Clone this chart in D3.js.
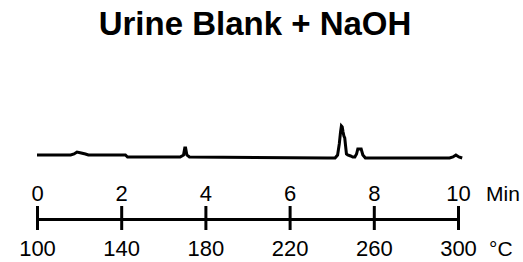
<!DOCTYPE html>
<html><head><meta charset="utf-8">
<script src="https://cdn.jsdelivr.net/npm/d3@7"></script>
<style>body{margin:0;background:#fff}svg{display:block}text{font-family:"Liberation Sans",Arial,sans-serif;fill:#000}</style>
</head><body>
<script>
const title = "Urine Blank + NaOH";
const minTicks = [0, 2, 4, 6, 8, 10];
const tempTicks = [100, 140, 180, 220, 260, 300];
const timeUnit = "Min";
const tempUnit = "°C";
// chromatogram trace (time in min, detector signal arbitrary units)
const times  = [0, 0.8, 0.88, 0.95, 1.05, 1.15, 1.22, 2.1, 2.15, 3.4, 3.48, 3.51, 3.53, 3.56, 3.62, 6.9, 7.08, 7.14, 7.18, 7.21, 7.23, 7.25, 7.27, 7.29, 7.31, 7.33, 7.35, 7.38, 7.45, 7.5, 7.55, 7.59, 7.62, 7.7, 7.74, 7.8, 9.8, 9.88, 9.95, 10.02, 10.1];
const signal = [5, 5, 6, 8, 7, 6, 5, 5, 3, 3, 5, 12, 12, 5, 3, 2, 2, 5, 16, 28, 34, 33, 28, 24, 22, 14, 6, 5, 4, 3, 3, 6, 11, 11, 5, 2, 2, 3, 5, 3, 2];

const W = 523, H = 262;
const svg = d3.select("body").append("svg").attr("width", W).attr("height", H);

const x = d3.scaleLinear().domain([0, 10]).range([37, 458]);
const xt = d3.scaleLinear().domain([100, 300]).range([37, 458]);
const y = d3.scaleLinear().domain([0, 100]).range([160, 60]);

svg.append("text").attr("x", 255).attr("y", 35).attr("text-anchor", "middle")
  .style("font-weight", "bold").style("font-size", "33px").text(title);

const line = d3.line().x((d, i) => x(times[i])).y(d => y(d));
svg.append("path").datum(signal).attr("d", line)
  .attr("fill", "none").attr("stroke", "#000").attr("stroke-width", 3).attr("stroke-linejoin", "miter");

const axisY = 219;
const gTop = svg.append("g").attr("transform", `translate(0,${axisY})`)
  .call(d3.axisTop(x).tickValues(minTicks).tickSize(13).tickSizeOuter(0).tickPadding(5));
const gBot = svg.append("g").attr("transform", `translate(0,${axisY})`)
  .call(d3.axisBottom(xt).tickValues(tempTicks).tickSize(11).tickSizeOuter(0).tickPadding(10));
[gTop, gBot].forEach(g => {
  g.selectAll("text").style("font-size", "22px").style("font-family", '"Liberation Sans",Arial,sans-serif').attr("fill", "#000");
  g.selectAll("line").attr("stroke", "#000").attr("stroke-width", 3);
  g.select(".domain").attr("stroke", "#000").attr("stroke-width", 3);
});

svg.append("text").attr("x", 486).attr("y", 201).style("font-size", "21px").text(timeUnit);
svg.append("text").attr("x", 489).attr("y", 256).style("font-size", "21px").text(tempUnit);
</script>
</body></html>
